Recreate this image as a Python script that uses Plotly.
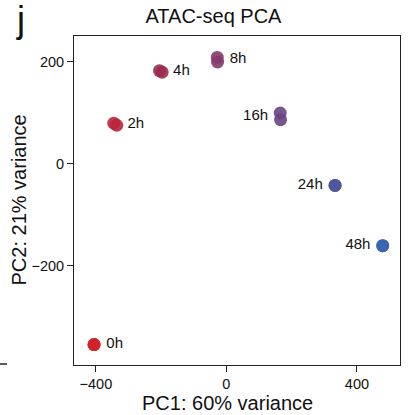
import plotly.graph_objects as go

# Data (two replicates per time point)
groups = ["0h", "0h", "2h", "2h", "4h", "4h", "8h", "8h", "16h", "16h", "24h", "24h", "48h", "48h"]
pc1 = [-406, -405, -345, -336, -205, -197, -28, -27, 165, 166, 333, 333, 479, 479]
pc2 = [-355, -355, 79, 75, 182, 179, 208, 199, 99, 86, -43, -43, -161, -161]

group_names = ["0h", "2h", "4h", "8h", "16h", "24h", "48h"]
group_colors = ["#d0202a", "#b8263b", "#9b2e50", "#853a6a", "#6a4582", "#4c5598", "#3a64b0"]
label_side = ["right", "right", "right", "right", "left", "left", "left"]

x_ticks = [-400, 0, 400]
y_ticks = [-200, 0, 200]

fig = go.Figure()
for g, c, side in zip(group_names, group_colors, label_side):
    xs = [x for x, gg in zip(pc1, groups) if gg == g]
    ys = [y for y, gg in zip(pc2, groups) if gg == g]
    fig.add_trace(go.Scatter(x=xs, y=ys, mode="markers",
                             marker=dict(size=13, color=c, opacity=0.9, line=dict(width=0)),
                             showlegend=False, hoverinfo="skip"))
    fig.add_trace(go.Scatter(x=[sum(xs) / len(xs)], y=[sum(ys) / len(ys)], mode="markers+text",
                             text=[g], textposition="middle " + side,
                             marker=dict(size=18, color="rgba(0,0,0,0)"),
                             textfont=dict(size=15, color="#111111", family="Liberation Sans"),
                             showlegend=False, hoverinfo="skip"))

fig.update_layout(
    width=409, height=415,
    margin=dict(l=74, r=9, t=36, b=50),
    paper_bgcolor="white", plot_bgcolor="white",
    font=dict(family="Liberation Sans", color="#111111"),
    title=dict(text="ATAC-seq PCA", x=0.522, xref="container", xanchor="center", y=0.962, yanchor="middle",
               font=dict(size=20, color="#111111")),
    xaxis=dict(range=[-467, 532], tickvals=x_ticks, ticks="outside", ticklen=6, tickcolor="#222",
               showline=True, linecolor="#222", linewidth=1, mirror=True, showgrid=False, zeroline=False,
               tickfont=dict(size=14.5)),
    yaxis=dict(range=[-395, 250], tickvals=y_ticks, ticks="outside", ticklen=6, tickcolor="#222",
               showline=True, linecolor="#222", linewidth=1, mirror=True, showgrid=False, zeroline=False,
               tickfont=dict(size=14.5)),
)

fig.add_annotation(text="PC1: 60% variance", xref="paper", yref="paper",
                   x=(227 - 74) / 326, y=-(403 - 365) / 329, xanchor="center", yanchor="middle",
                   showarrow=False, font=dict(size=20, color="#111111"))
fig.add_annotation(text="PC2: 21% variance", xref="paper", yref="paper", textangle=-90,
                   x=-(74 - 18) / 326, y=0.5, xanchor="center", yanchor="middle",
                   showarrow=False, font=dict(size=20, color="#111111"))
fig.add_annotation(text="j", xref="paper", yref="paper", x=-(74 - 20) / 326, y=1 + (36 - 20) / 329,
                   xanchor="center", yanchor="middle",
                   showarrow=False, font=dict(size=36, color="#111111", family="Liberation Sans"))
fig.add_shape(type="line", xref="paper", yref="paper", x0=-74 / 326, x1=-67 / 326, y0=0.003, y1=0.003,
              line=dict(color="#222", width=1.5))

fig.write_html("out.html")
